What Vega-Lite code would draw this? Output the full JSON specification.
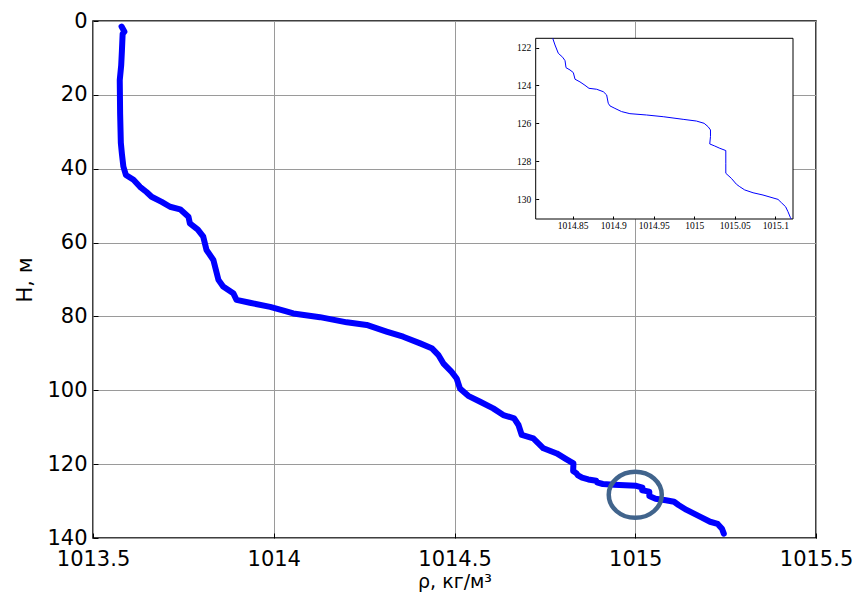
{
  "$schema": "https://vega.github.io/schema/vega-lite/v6.json",
  "width": 723,
  "height": 517,
  "autosize": "none",
  "padding": {"left": 93, "top": 21, "right": 42, "bottom": 68},
  "background": "white",
  "config": {
    "view": {"stroke": "black", "strokeWidth": 1.5},
    "font": "DejaVu Sans"
  },
  "datasets": {
    "main": [
      {"H": 1.5, "rho": 1013.579}, {"H": 2.9, "rho": 1013.587}, {"H": 3.5, "rho": 1013.582},
      {"H": 8, "rho": 1013.58}, {"H": 12, "rho": 1013.578}, {"H": 16, "rho": 1013.574},
      {"H": 25, "rho": 1013.575}, {"H": 33, "rho": 1013.577}, {"H": 36, "rho": 1013.58},
      {"H": 39.4, "rho": 1013.584}, {"H": 41.7, "rho": 1013.591}, {"H": 43, "rho": 1013.612},
      {"H": 44.9, "rho": 1013.63}, {"H": 46.3, "rho": 1013.648}, {"H": 47.6, "rho": 1013.662},
      {"H": 49, "rho": 1013.69}, {"H": 50.3, "rho": 1013.713}, {"H": 51, "rho": 1013.741},
      {"H": 53, "rho": 1013.764}, {"H": 54.8, "rho": 1013.768}, {"H": 56.5, "rho": 1013.79},
      {"H": 58.4, "rho": 1013.805}, {"H": 62, "rho": 1013.814}, {"H": 64.7, "rho": 1013.833},
      {"H": 70.1, "rho": 1013.847}, {"H": 71.9, "rho": 1013.86}, {"H": 73.7, "rho": 1013.888},
      {"H": 75.5, "rho": 1013.897}, {"H": 76.3, "rho": 1013.934}, {"H": 77.4, "rho": 1013.99},
      {"H": 78.5, "rho": 1014.03}, {"H": 79.2, "rho": 1014.054}, {"H": 80.2, "rho": 1014.128},
      {"H": 81.6, "rho": 1014.202}, {"H": 82.3, "rho": 1014.257}, {"H": 84.1, "rho": 1014.312},
      {"H": 85.5, "rho": 1014.358}, {"H": 87.3, "rho": 1014.405}, {"H": 88.6, "rho": 1014.437},
      {"H": 90.4, "rho": 1014.455}, {"H": 92.7, "rho": 1014.469}, {"H": 95.0, "rho": 1014.492},
      {"H": 96.8, "rho": 1014.506}, {"H": 99.5, "rho": 1014.515}, {"H": 101.5, "rho": 1014.538},
      {"H": 103.1, "rho": 1014.571}, {"H": 104.9, "rho": 1014.607}, {"H": 106.7, "rho": 1014.635},
      {"H": 107.6, "rho": 1014.665}, {"H": 109.4, "rho": 1014.677}, {"H": 112.1, "rho": 1014.686},
      {"H": 113.0, "rho": 1014.718}, {"H": 115.7, "rho": 1014.746}, {"H": 117.1, "rho": 1014.783},
      {"H": 118.7, "rho": 1014.81}, {"H": 119.8, "rho": 1014.829}, {"H": 121.86, "rho": 1014.8282},
      {"H": 122.51, "rho": 1014.8377}, {"H": 123.06, "rho": 1014.8418}, {"H": 123.67, "rho": 1014.8529},
      {"H": 124.15, "rho": 1014.8701}, {"H": 124.5, "rho": 1014.8919}, {"H": 124.94, "rho": 1014.8939},
      {"H": 125.38, "rho": 1014.9103}, {"H": 125.56, "rho": 1014.9411}, {"H": 125.88, "rho": 1015.0027},
      {"H": 126.35, "rho": 1015.02}, {"H": 127.09, "rho": 1015.0191}, {"H": 127.44, "rho": 1015.0389},
      {"H": 128.64, "rho": 1015.0389}, {"H": 129.35, "rho": 1015.0561}, {"H": 129.79, "rho": 1015.0848},
      {"H": 130.19, "rho": 1015.1074}, {"H": 131.06, "rho": 1015.1197}, {"H": 132.4, "rho": 1015.142},
      {"H": 134.2, "rho": 1015.179}, {"H": 135.6, "rho": 1015.207}, {"H": 136.2, "rho": 1015.228},
      {"H": 137.5, "rho": 1015.24}, {"H": 138.8, "rho": 1015.245}
    ],
    "inset": [
      {"H": 121.507, "rho": 1014.8254}, {"H": 121.86, "rho": 1014.8282}, {"H": 122.3, "rho": 1014.8323},
      {"H": 122.51, "rho": 1014.8377}, {"H": 122.69, "rho": 1014.8406}, {"H": 123.06, "rho": 1014.8418},
      {"H": 123.18, "rho": 1014.8467}, {"H": 123.32, "rho": 1014.8508}, {"H": 123.67, "rho": 1014.8529},
      {"H": 123.81, "rho": 1014.859}, {"H": 123.99, "rho": 1014.8652}, {"H": 124.15, "rho": 1014.8701},
      {"H": 124.2, "rho": 1014.8796}, {"H": 124.33, "rho": 1014.8878}, {"H": 124.5, "rho": 1014.8919},
      {"H": 124.94, "rho": 1014.8939}, {"H": 125.08, "rho": 1014.896}, {"H": 125.21, "rho": 1014.9021},
      {"H": 125.38, "rho": 1014.9103}, {"H": 125.49, "rho": 1014.9206}, {"H": 125.56, "rho": 1014.9411},
      {"H": 125.65, "rho": 1014.9617}, {"H": 125.79, "rho": 1014.9863}, {"H": 125.88, "rho": 1015.0027},
      {"H": 126.0, "rho": 1015.0122}, {"H": 126.18, "rho": 1015.0171}, {"H": 126.35, "rho": 1015.02},
      {"H": 126.7, "rho": 1015.02}, {"H": 127.09, "rho": 1015.0191}, {"H": 127.2, "rho": 1015.0253},
      {"H": 127.32, "rho": 1015.0315}, {"H": 127.44, "rho": 1015.0389}, {"H": 128.11, "rho": 1015.0389},
      {"H": 128.64, "rho": 1015.0389}, {"H": 128.91, "rho": 1015.0458}, {"H": 129.22, "rho": 1015.052},
      {"H": 129.35, "rho": 1015.0561}, {"H": 129.52, "rho": 1015.0622}, {"H": 129.67, "rho": 1015.0725},
      {"H": 129.79, "rho": 1015.0848}, {"H": 130.02, "rho": 1015.1033}, {"H": 130.19, "rho": 1015.1074},
      {"H": 130.41, "rho": 1015.1127}, {"H": 130.67, "rho": 1015.1156}, {"H": 130.97, "rho": 1015.1185},
      {"H": 131.057, "rho": 1015.1197}
    ],
    "highlight": [{"H": 128.3, "rho": 1015.0}],
    "insetFrame": [{"rho0": 1014.8044, "rho1": 1015.1218, "H0": 121.507, "H1": 131.057}]
  },
  "layer": [
    {
      "encoding": {
        "x": {
          "field": "rho", "type": "quantitative",
          "scale": {"domain": [1013.5, 1015.5], "nice": false, "zero": false},
          "axis": {
            "orient": "bottom", "zindex": 0,
            "values": [1013.5, 1014, 1014.5, 1015, 1015.5], "format": "~g",
            "grid": true, "gridColor": "#9a9a9a", "gridWidth": 1,
            "domain": false, "tickSize": -5, "tickColor": "black", "tickWidth": 1,
            "labelFont": "DejaVu Sans", "labelFontSize": 21, "labelColor": "black",
            "labelBaseline": "alphabetic", "labelPadding": 32,
            "labelFlush": false, "labelOverlap": false, "labelBound": false,
            "title": "ρ, кг/м³", "titleFont": "DejaVu Sans", "titleFontSize": 19,
            "titleFontWeight": "normal", "titleColor": "black",
            "titleBaseline": "alphabetic", "titleY": 49
          }
        },
        "y": {
          "field": "H", "type": "quantitative",
          "scale": {"domain": [0, 140], "nice": false, "zero": false, "reverse": true},
          "axis": {
            "orient": "left", "zindex": 0,
            "values": [0, 20, 40, 60, 80, 100, 120, 140],
            "grid": true, "gridColor": "#9a9a9a", "gridWidth": 1,
            "domain": false, "tickSize": -5, "tickColor": "black", "tickWidth": 1,
            "labelFont": "DejaVu Sans", "labelFontSize": 21, "labelColor": "black",
            "labelPadding": 11, "labelFlush": false, "labelOverlap": false, "labelBound": false,
            "title": "H, м", "titleFont": "DejaVu Sans", "titleFontSize": 21,
            "titleFontWeight": "normal", "titleColor": "black",
            "titleBaseline": "alphabetic", "titleX": -62
          }
        }
      },
      "layer": [
        {
          "data": {"name": "main"},
          "mark": {"type": "line", "color": "#0000ff", "strokeWidth": 6, "strokeCap": "round", "strokeJoin": "round"},
          "encoding": {"order": {"field": "H", "type": "quantitative"}}
        },
        {
          "data": {"name": "highlight"},
          "mark": {
            "type": "point", "filled": false, "opacity": 1,
            "shape": "M-1,0C-1,-0.48,-0.5523,-0.87,0,-0.87C0.5523,-0.87,1,-0.48,1,0C1,0.48,0.5523,0.87,0,0.87C-0.5523,0.87,-1,0.48,-1,0Z",
            "size": 2809, "stroke": "#41648c", "strokeWidth": 4.5
          }
        }
      ]
    },
    {
      "encoding": {
        "y": {
          "field": "H", "type": "quantitative",
          "scale": {"domain": [121.507, 131.057], "nice": false, "zero": false, "range": [17.3, 198]},
          "axis": {
            "orient": "left", "offset": -442.7, "zindex": 1,
            "values": [122, 124, 126, 128, 130],
            "grid": false, "domain": false, "tickSize": -3, "tickColor": "black",
            "labelFont": "Liberation Serif", "labelFontSize": 9.5, "labelColor": "black",
            "labelPadding": 8, "labelFlush": false, "labelOverlap": false, "labelBound": false,
            "title": null
          }
        },
        "x": {
          "field": "rho", "type": "quantitative",
          "scale": {"domain": [1014.8044, 1015.1218], "nice": false, "zero": false, "range": [442.7, 700]},
          "axis": {
            "orient": "bottom", "offset": -319, "zindex": 1,
            "values": [1014.85, 1014.9, 1014.95, 1015, 1015.05, 1015.1], "format": "~g",
            "grid": false, "domain": false, "tickSize": -3, "tickColor": "black",
            "labelFont": "Liberation Serif", "labelFontSize": 9.5, "labelColor": "black",
            "labelBaseline": "top", "labelPadding": 4,
            "labelFlush": false, "labelOverlap": false, "labelBound": false,
            "title": null
          }
        }
      },
      "layer": [
        {
          "data": {"name": "insetFrame"},
          "mark": {"type": "rect", "fill": "white", "stroke": "black", "strokeWidth": 1},
          "encoding": {
            "x": {"field": "rho0", "type": "quantitative"},
            "x2": {"field": "rho1"},
            "y": {"field": "H0", "type": "quantitative"},
            "y2": {"field": "H1"}
          }
        },
        {
          "data": {"name": "inset"},
          "mark": {"type": "line", "color": "#0000ff", "strokeWidth": 1, "clip": true},
          "encoding": {"order": {"field": "H", "type": "quantitative"}}
        }
      ]
    }
  ],
  "resolve": {
    "scale": {"x": "independent", "y": "independent"},
    "axis": {"x": "independent", "y": "independent"}
  }
}
